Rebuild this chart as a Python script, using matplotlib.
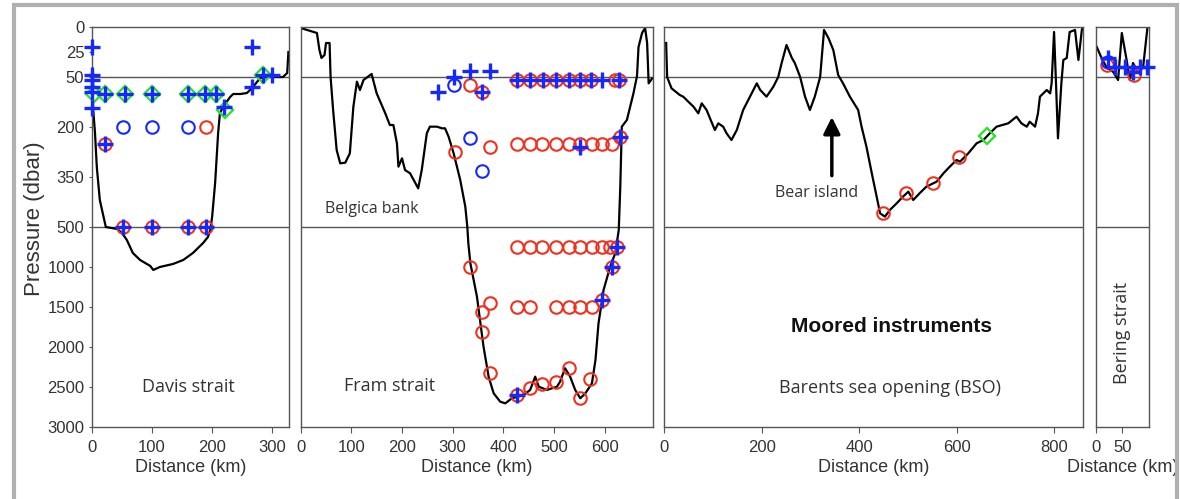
import numpy as np
import matplotlib.pyplot as plt
from matplotlib.patches import Rectangle

plt.rcParams['font.family'] = ['Liberation Sans', 'DejaVu Sans']

# --- Davis strait ---
davis_km = [0, 2, 5, 8, 13, 23, 42, 50, 58, 68, 80, 97, 102, 113, 135, 152, 168, 185, 193, 197,
            200, 205, 210, 213, 218, 230, 235, 247, 258, 263, 268, 280, 292, 318, 325, 327]
davis_p = [50, 149, 218, 320, 419, 500, 525, 575, 662, 825, 912, 987, 1037, 1000, 962, 912, 825, 700, 625, 537,
           470, 368, 218, 158, 140, 110, 101, 101, 98, 89, 80, 53, 50, 50, 46, 25]
davis_red_km = [22, 52, 100, 160, 190, 190]
davis_red_p = [250, 500, 500, 500, 500, 200]
davis_blue_km = [52, 100, 160]
davis_blue_p = [200, 200, 200]
davis_green_km = [3, 22, 55, 100, 160, 188, 206, 222, 285]
davis_green_p = [100, 100, 100, 100, 100, 100, 100, 150, 48]
davis_plus_km = [0, 0, 0, 0, 0, 0, 22, 55, 100, 160, 188, 206, 219, 22, 52, 100, 160, 190, 266, 266, 285, 300]
davis_plus_p = [20, 48, 59, 79, 94, 144, 100, 100, 100, 100, 100, 100, 140, 250, 500, 500, 500, 500, 20, 79, 48, 48]

# --- Fram strait ---
fram_km = [0, 32, 37, 41, 47, 50, 57, 59, 64, 71, 78, 88, 97, 104, 111, 117, 124, 140, 150, 167,
           176, 183, 190, 193, 200, 206, 216, 232, 239, 249, 255, 269, 279, 285, 292, 302, 315, 325, 329, 331,
           335, 348, 354, 361, 371, 381, 394, 404, 417, 440, 453, 463, 470, 486, 506, 512, 522, 532, 542, 552,
           562, 575, 582, 588, 598, 611, 621, 628, 631, 634, 644, 657, 664, 667, 674, 680, 684, 687, 694]
fram_p = [1, 6, 23, 31, 28, 16, 16, 50, 149, 269, 309, 307, 279, 139, 64, 89, 59, 47, 99, 159,
          194, 194, 249, 319, 294, 329, 339, 384, 329, 219, 199, 199, 204, 204, 229, 279, 359, 439, 500, 704,
          954, 1371, 1662, 1996, 2371, 2579, 2684, 2704, 2641, 2600, 2537, 2371, 2496, 2537, 2496, 2434, 2266, 2371, 2537, 2641,
          2579, 2454, 2162, 1704, 1287, 996, 829, 537, 379, 199, 179, 99, 49, 20, 6, 1, 16, 69, 54]
fram_red_km = [335, 358,
               427, 453, 478, 505, 529, 552, 573, 621, 628,
               305, 374, 427, 452, 477, 504, 530, 552, 575, 595, 615, 630,
               427, 452, 477, 504, 530, 552, 575, 595, 610, 625,
               335, 615,
               427, 452, 504, 530, 552, 575, 595, 358, 374, 358, 374,
               427, 452, 477, 504, 530, 552, 572]
fram_red_p = [74, 94,
              59, 59, 59, 59, 59, 59, 59, 59, 59,
              274, 259, 250, 250, 250, 250, 250, 250, 250, 250, 250, 230,
              750, 750, 750, 750, 750, 750, 750, 750, 750, 750,
              1000, 1000,
              1500, 1500, 1500, 1500, 1500, 1500, 1410, 1560, 1455, 1810, 2330,
              2600, 2516, 2466, 2434, 2266, 2641, 2404]
fram_blue_km = [302, 335, 358]
fram_blue_p = [74, 234, 331]
fram_plus_km = [272, 302, 335, 358, 374, 427, 453, 478, 505, 529, 552, 573, 595, 628,
                552, 630, 625, 615, 595, 427]
fram_plus_p = [94, 50, 44, 94, 44, 59, 59, 59, 59, 59, 59, 59, 59, 59,
               259, 230, 750, 1000, 1410, 2600]

# --- Barents sea opening ---
bso_km = [4, 6, 15, 32, 39, 60, 70, 77, 87, 94, 104, 111, 121, 128, 138, 149, 162, 176, 190, 197,
          210, 224, 234, 241, 251, 262, 268, 279, 289, 299, 309, 320, 328, 337, 347, 357, 367, 381, 398, 405,
          415, 426, 436, 443, 453, 463, 477, 490, 501, 511, 524, 538, 559, 573, 586, 600, 607, 624, 641, 655,
          668, 682, 706, 723, 733, 744, 750, 761, 767, 771, 785, 792, 795, 800, 804, 808, 815, 819, 826, 832,
          843, 850, 857, 859]
bso_p = [16, 50, 84, 104, 109, 139, 159, 129, 149, 174, 209, 189, 199, 219, 239, 209, 149, 109, 69, 89,
         109, 79, 50, 36, 18, 31, 36, 50, 109, 149, 109, 50, 3, 11, 23, 48, 69, 109, 149, 199,
         259, 339, 409, 459, 469, 449, 429, 409, 394, 419, 399, 379, 364, 339, 319, 299, 304, 279, 249, 239,
         219, 199, 189, 169, 189, 199, 184, 199, 159, 109, 89, 99, 69, 5, 69, 234, 69, 33, 31, 5,
         3, 33, 3, 0]
bso_red_km = [449, 497, 551, 605]
bso_red_p = [459, 399, 367, 289]
bso_green_km = [663]
bso_green_p = [227]

# --- Bering strait ---
bering_km = [2, 11, 20, 33, 42, 49, 58, 64, 70, 80, 89, 97]
bering_p = [20, 31, 40, 45, 59, 6, 33, 59, 36, 46, 40, 1]
bering_red_km = [21, 72]
bering_red_p = [38, 48]
bering_blue_km = [23]
bering_blue_p = [35]
bering_plus_km = [24, 36, 55, 70, 83, 96]
bering_plus_p = [31, 40, 40, 45, 40, 40]

p_ticks = [0, 25, 50, 200, 350, 500, 1000, 1500, 2000, 2500, 3000]

# piecewise pressure axis (0-50, 50-500, 500-3000)
p_knots = [0, 50, 500, 3000]
s_knots = [0, 50, 200, 400]


def fwd(p):
    return np.interp(p, p_knots, s_knots)


def inv(s):
    return np.interp(s, s_knots, p_knots)


RED = '#f2301e'
BLUE = '#1428ff'
GREEN = '#2ee02e'
TXT = '#333333'
SP = '#555555'

W, H = 1180, 499
fig = plt.figure(figsize=(W / 100, H / 100), dpi=100)

fig.add_artist(Rectangle((14 / W, -0.05), (1177 - 14) / W, 1.05 - 5 / H,
                         transform=fig.transFigure, fill=False, ec='#b0b0b0', lw=3))


def make_ax(x0, x1, xmax, xticks):
    ax = fig.add_axes([x0 / W, 1 - 427 / H, (x1 - x0) / W, 400 / H])
    ax.set_yscale('function', functions=(fwd, inv))
    ax.set_ylim(3000, 0)
    ax.set_xlim(0, xmax)
    ax.set_xticks(xticks)
    ax.axhline(50, color=SP, lw=1)
    ax.axhline(500, color=SP, lw=1)
    for s in ax.spines.values():
        s.set_color(SP)
        s.set_linewidth(1)
    ax.tick_params(axis='x', direction='out', length=4, labelsize=12, colors=SP, labelcolor=TXT, pad=5)
    ax.tick_params(axis='y', direction='out', length=2, labelsize=12, colors=SP, labelcolor=TXT)
    ax.set_yticks(p_ticks)
    ax.set_yticklabels([])
    ax.tick_params(axis='y', length=0)
    ax.set_xlabel('Distance (km)', fontsize=13, color=TXT, labelpad=3)
    return ax


def marks(ax, rx, ry, bx=None, by=None, gx=None, gy=None, px=None, py=None):
    ax.plot(rx, ry, 'o', mfc='none', mec=RED, ms=9, mew=1.5, zorder=3, clip_on=False)
    if bx:
        ax.plot(bx, by, 'o', mfc='none', mec=BLUE, ms=9, mew=1.5, zorder=3, clip_on=False)
    if gx:
        ax.plot(gx, gy, 'D', mfc='none', mec=GREEN, ms=8.3, mew=1.7, zorder=4, clip_on=False)
    if px:
        ax.plot(px, py, '+', color=BLUE, ms=11.5, mew=2.4, zorder=5, clip_on=False)


ax1 = make_ax(92, 289, 328, [0, 100, 200, 300])
ax1.plot(davis_km, davis_p, color='k', lw=1.6, zorder=2)
marks(ax1, davis_red_km, davis_red_p, davis_blue_km, davis_blue_p,
      davis_green_km, davis_green_p, davis_plus_km, davis_plus_p)
ax1.set_yticklabels([str(t) for t in p_ticks])
ax1.tick_params(axis='y', length=2)
ax1.text(160, 2500, 'Davis strait', family='Open Sans', fontsize=13, color=TXT, ha='center', va='center')

ax2 = make_ax(300.7, 652.7, 695, [0, 100, 200, 300, 400, 500, 600])
ax2.plot(fram_km, fram_p, color='k', lw=1.6, zorder=2)
marks(ax2, fram_red_km, fram_red_p, fram_blue_km, fram_blue_p, px=fram_plus_km, py=fram_plus_p)
ax2.text(175, 2487, 'Fram strait', family='Open Sans', fontsize=13, color=TXT, ha='center', va='center')
ax2.text(141, 446, 'Belgica bank', family='Open Sans', fontsize=11.5, color=TXT, ha='center', va='center')

ax3 = make_ax(664.2, 1083.3, 860, [0, 200, 400, 600, 800])
ax3.plot(bso_km, bso_p, color='k', lw=1.6, zorder=2)
marks(ax3, bso_red_km, bso_red_p, gx=bso_green_km, gy=bso_green_p)
ax3.annotate('', xy=(344, 170), xytext=(344, 346),
             arrowprops=dict(arrowstyle='-|>,head_length=0.5,head_width=0.25', lw=2.5, color='k',
                             mutation_scale=20, shrinkA=0, shrinkB=0))
ax3.text(313, 398, 'Bear island', family='Open Sans', fontsize=11.5, color=TXT, ha='center', va='center')
ax3.text(467, 1750, 'Moored instruments', fontsize=15, fontweight='bold', color='#111111',
         ha='center', va='center')
ax3.text(463, 2512, 'Barents sea opening (BSO)', family='Open Sans', fontsize=13, color=TXT,
         ha='center', va='center')

ax4 = make_ax(1095.7, 1149, 100, [0, 50])
ax4.plot(bering_km, bering_p, color='k', lw=1.6, zorder=2)
marks(ax4, bering_red_km, bering_red_p, bering_blue_km, bering_blue_p,
      px=bering_plus_km, py=bering_plus_p)
ax4.text(49, 1825, 'Bering strait', family='Open Sans', fontsize=13, color=TXT, ha='center',
         va='center', rotation=90)

fig.text(35 / W, 1 - 219 / H, 'Pressure (dbar)', fontsize=16, color=TXT, rotation=90,
         ha='center', va='center')

fig.savefig('out.png', dpi=100)
